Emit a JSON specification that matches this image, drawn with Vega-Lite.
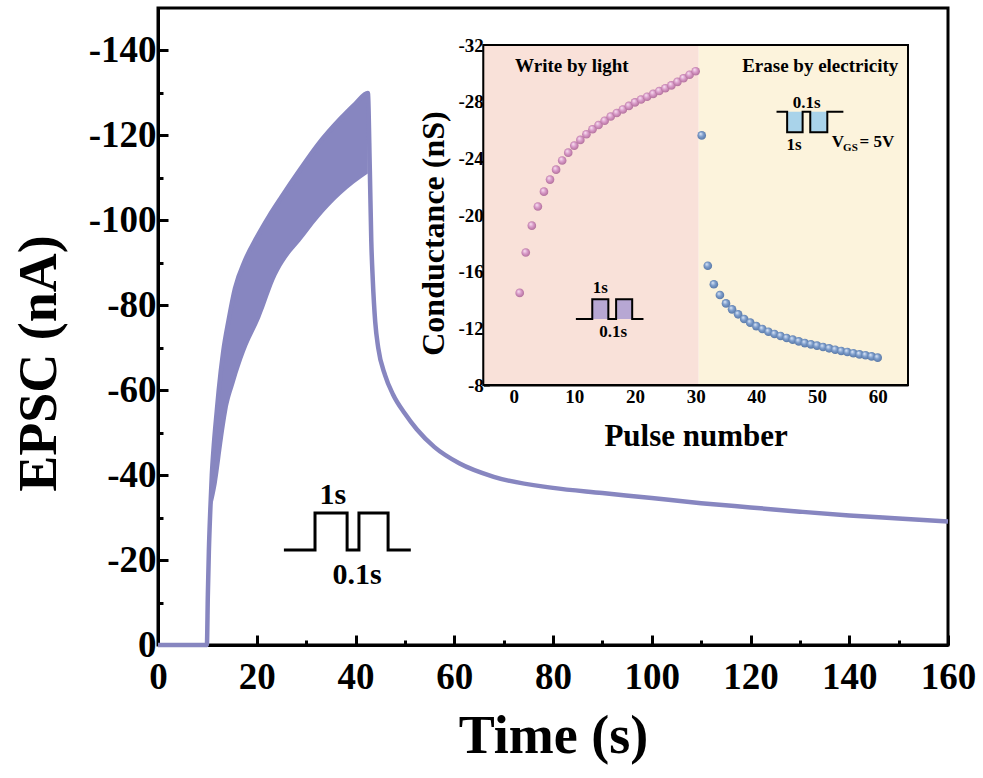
{
  "$schema": "https://vega.github.io/schema/vega-lite/v6.json",
  "width": 790,
  "height": 637,
  "autosize": {"type": "none"},
  "padding": {"left": 158, "top": 8, "right": 35, "bottom": 133},
  "background": "white",
  "config": {
    "view": {"stroke": "black", "strokeWidth": 3},
    "font": "Liberation Serif",
    "text": {"font": "Liberation Serif", "fontWeight": "bold", "color": "black"}
  },
  "datasets": {
    "band": [
      {"t": 11.0, "epsc": -43, "lo": -33},
      {"t": 11.9, "epsc": -55, "lo": -38},
      {"t": 13.2, "epsc": -69, "lo": -49},
      {"t": 14.0, "epsc": -74.5, "lo": -55},
      {"t": 15.6, "epsc": -84, "lo": -62},
      {"t": 17.6, "epsc": -90.5, "lo": -69},
      {"t": 20.7, "epsc": -97.5, "lo": -77},
      {"t": 24.0, "epsc": -104, "lo": -87},
      {"t": 26.0, "epsc": -107, "lo": -91},
      {"t": 28.8, "epsc": -112, "lo": -95},
      {"t": 32.5, "epsc": -118, "lo": -100.5},
      {"t": 37.0, "epsc": -124, "lo": -106},
      {"t": 42.5, "epsc": -130, "lo": -111}
    ],
    "curve": [
      {"t": 0, "epsc": 0}, {"t": 9.9, "epsc": 0}, {"t": 10.1, "epsc": -12}, {"t": 10.3, "epsc": -22},
      {"t": 10.6, "epsc": -32}, {"t": 10.9, "epsc": -40}, {"t": 11.3, "epsc": -47}, {"t": 11.9, "epsc": -55},
      {"t": 12.3, "epsc": -60}, {"t": 13.2, "epsc": -69}, {"t": 14.3, "epsc": -76.5}, {"t": 15.6, "epsc": -84},
      {"t": 17.6, "epsc": -90.5}, {"t": 20, "epsc": -96}, {"t": 22.5, "epsc": -101}, {"t": 25, "epsc": -105.5},
      {"t": 28.8, "epsc": -112}, {"t": 32.5, "epsc": -118}, {"t": 37, "epsc": -124}, {"t": 40, "epsc": -127.5},
      {"t": 42.5, "epsc": -130}, {"t": 42.9, "epsc": -112}, {"t": 43.2, "epsc": -95}, {"t": 43.5, "epsc": -86},
      {"t": 44, "epsc": -76}, {"t": 44.6, "epsc": -70}, {"t": 46, "epsc": -63.5}, {"t": 47.6, "epsc": -59},
      {"t": 50, "epsc": -54.5}, {"t": 52.4, "epsc": -50.8}, {"t": 56, "epsc": -46.6}, {"t": 61, "epsc": -42.8},
      {"t": 68, "epsc": -39.6}, {"t": 80, "epsc": -37}, {"t": 90, "epsc": -35.8}, {"t": 100, "epsc": -34.6},
      {"t": 110, "epsc": -33.4}, {"t": 120, "epsc": -32.4}, {"t": 130, "epsc": -31.4}, {"t": 140, "epsc": -30.5},
      {"t": 150, "epsc": -29.8}, {"t": 160, "epsc": -29.1}
    ],
    "mainPulse": [
      {"i": 0, "t": 25.5, "epsc": -22.35}, {"i": 1, "t": 31.8, "epsc": -22.35}, {"i": 2, "t": 31.8, "epsc": -31.06},
      {"i": 3, "t": 38.3, "epsc": -31.06}, {"i": 4, "t": 38.3, "epsc": -22.35}, {"i": 5, "t": 40.7, "epsc": -22.35},
      {"i": 6, "t": 40.7, "epsc": -31.06}, {"i": 7, "t": 46.6, "epsc": -31.06}, {"i": 8, "t": 46.6, "epsc": -22.35},
      {"i": 9, "t": 51.2, "epsc": -22.35}
    ],
    "mainText": [
      {"t": 35.4, "epsc": -35.3, "label": "1s"},
      {"t": 40.3, "epsc": -16.5, "label": "0.1s"}
    ],
    "regions": [
      {"n": -5, "n2": 30.5, "g": -32, "g2": -8, "phase": "write"},
      {"n": 30.5, "n2": 65, "g": -32, "g2": -8, "phase": "erase"}
    ],
    "frame": [{"n": -5, "n2": 65, "g": -32, "g2": -8}],
    "points": [
      {"n": 1, "g": -14.5, "phase": "write"}, {"n": 2, "g": -17.35, "phase": "write"}, {"n": 3, "g": -19.25, "phase": "write"},
      {"n": 4, "g": -20.6, "phase": "write"}, {"n": 5, "g": -21.65, "phase": "write"}, {"n": 6, "g": -22.5, "phase": "write"},
      {"n": 7, "g": -23.2, "phase": "write"}, {"n": 8, "g": -23.85, "phase": "write"}, {"n": 9, "g": -24.4, "phase": "write"},
      {"n": 10, "g": -24.9, "phase": "write"}, {"n": 11, "g": -25.3, "phase": "write"}, {"n": 12, "g": -25.7, "phase": "write"},
      {"n": 13, "g": -26.05, "phase": "write"}, {"n": 14, "g": -26.35, "phase": "write"}, {"n": 15, "g": -26.65, "phase": "write"},
      {"n": 16, "g": -26.95, "phase": "write"}, {"n": 17, "g": -27.2, "phase": "write"}, {"n": 18, "g": -27.45, "phase": "write"},
      {"n": 19, "g": -27.7, "phase": "write"}, {"n": 20, "g": -27.95, "phase": "write"}, {"n": 21, "g": -28.15, "phase": "write"},
      {"n": 22, "g": -28.35, "phase": "write"}, {"n": 23, "g": -28.55, "phase": "write"}, {"n": 24, "g": -28.75, "phase": "write"},
      {"n": 25, "g": -28.95, "phase": "write"}, {"n": 26, "g": -29.15, "phase": "write"}, {"n": 27, "g": -29.4, "phase": "write"},
      {"n": 28, "g": -29.65, "phase": "write"}, {"n": 29, "g": -29.9, "phase": "write"}, {"n": 30, "g": -30.15, "phase": "write"},
      {"n": 31, "g": -25.62, "phase": "erase"}, {"n": 32, "g": -16.42, "phase": "erase"}, {"n": 33, "g": -15.11, "phase": "erase"},
      {"n": 34, "g": -14.35, "phase": "erase"}, {"n": 35, "g": -13.76, "phase": "erase"}, {"n": 36, "g": -13.34, "phase": "erase"},
      {"n": 37, "g": -12.99, "phase": "erase"}, {"n": 38, "g": -12.66, "phase": "erase"}, {"n": 39, "g": -12.4, "phase": "erase"},
      {"n": 40, "g": -12.16, "phase": "erase"}, {"n": 41, "g": -11.95, "phase": "erase"}, {"n": 42, "g": -11.76, "phase": "erase"},
      {"n": 43, "g": -11.6, "phase": "erase"}, {"n": 44, "g": -11.46, "phase": "erase"}, {"n": 45, "g": -11.32, "phase": "erase"},
      {"n": 46, "g": -11.2, "phase": "erase"}, {"n": 47, "g": -11.08, "phase": "erase"}, {"n": 48, "g": -10.96, "phase": "erase"},
      {"n": 49, "g": -10.87, "phase": "erase"}, {"n": 50, "g": -10.78, "phase": "erase"}, {"n": 51, "g": -10.68, "phase": "erase"},
      {"n": 52, "g": -10.59, "phase": "erase"}, {"n": 53, "g": -10.49, "phase": "erase"}, {"n": 54, "g": -10.4, "phase": "erase"},
      {"n": 55, "g": -10.33, "phase": "erase"}, {"n": 56, "g": -10.24, "phase": "erase"}, {"n": 57, "g": -10.16, "phase": "erase"},
      {"n": 58, "g": -10.1, "phase": "erase"}, {"n": 59, "g": -10.02, "phase": "erase"}, {"n": 60, "g": -9.93, "phase": "erase"}
    ],
    "pulseFill": [
      {"n": 12.96, "n2": 15.61, "g": -12.66, "g2": -14.05, "phase": "write"},
      {"n": 16.89, "n2": 19.54, "g": -12.66, "g2": -14.05, "phase": "write"},
      {"n": 45.08, "n2": 47.63, "g": -27.29, "g2": -25.84, "phase": "erase"},
      {"n": 48.89, "n2": 51.7, "g": -27.29, "g2": -25.84, "phase": "erase"}
    ],
    "pulsePath": [
      {"p": "write", "i": 0, "n": 10.26, "g": -12.66}, {"p": "write", "i": 1, "n": 12.96, "g": -12.66},
      {"p": "write", "i": 2, "n": 12.96, "g": -14.05}, {"p": "write", "i": 3, "n": 15.61, "g": -14.05},
      {"p": "write", "i": 4, "n": 15.61, "g": -12.66}, {"p": "write", "i": 5, "n": 16.89, "g": -12.66},
      {"p": "write", "i": 6, "n": 16.89, "g": -14.05}, {"p": "write", "i": 7, "n": 19.54, "g": -14.05},
      {"p": "write", "i": 8, "n": 19.54, "g": -12.66}, {"p": "write", "i": 9, "n": 21.4, "g": -12.66},
      {"p": "erase", "i": 0, "n": 43.33, "g": -27.29}, {"p": "erase", "i": 1, "n": 45.08, "g": -27.29},
      {"p": "erase", "i": 2, "n": 45.08, "g": -25.84}, {"p": "erase", "i": 3, "n": 47.63, "g": -25.84},
      {"p": "erase", "i": 4, "n": 47.63, "g": -27.29}, {"p": "erase", "i": 5, "n": 48.89, "g": -27.29},
      {"p": "erase", "i": 6, "n": 48.89, "g": -25.84}, {"p": "erase", "i": 7, "n": 51.7, "g": -25.84},
      {"p": "erase", "i": 8, "n": 51.7, "g": -27.29}, {"p": "erase", "i": 9, "n": 54.35, "g": -27.29}
    ],
    "insetTitles": [
      {"n": 9.6, "g": -30.54, "label": "Write by light"}
    ],
    "insetTitlesRight": [
      {"n": 63.4, "g": -30.54, "label": "Erase by electricity"}
    ],
    "insetSmall": [
      {"n": 14.29, "g": -14.83, "label": "1s"},
      {"n": 16.39, "g": -11.72, "label": "0.1s"},
      {"n": 48.3, "g": -27.89, "label": "0.1s"},
      {"n": 46.2, "g": -24.94, "label": "1s"}
    ],
    "vgsMain": [
      {"n": 52.43, "g": -25.18, "label": "V"},
      {"n": 57.0, "g": -25.18, "label": "= 5V"}
    ],
    "vgsSub": [
      {"n": 54.3, "g": -24.7, "label": "GS"}
    ]
  },
  "layer": [
    {
      "layer": [
        {
          "data": {"name": "band"},
          "mark": {"type": "area", "color": "#8786c0", "opacity": 1, "interpolate": "monotone"},
          "encoding": {
            "x": {
              "field": "t", "type": "quantitative",
              "scale": {"domain": [0, 160], "nice": false, "zero": false},
              "axis": {
                "title": "Time (s)",
                "values": [0, 10, 20, 30, 40, 50, 60, 70, 80, 90, 100, 110, 120, 130, 140, 150, 160],
                "labelExpr": "datum.value % 20 === 0 ? datum.label : ''",
                "tickSize": {"condition": {"test": "datum.value % 20 === 0", "value": -10}, "value": -5},
                "tickWidth": 3, "tickColor": "black",
                "domainColor": "black", "domainWidth": 3,
                "labelFont": "Liberation Serif", "labelFontSize": 37, "labelFontWeight": "bold", "labelColor": "black",
                "labelPadding": 24, "labelFlush": false, "labelOverlap": false,
                "titleFont": "Liberation Serif", "titleFontSize": 54, "titleFontWeight": "bold", "titleColor": "black",
                "titlePadding": 9, "grid": false
              }
            },
            "y": {
              "field": "epsc", "type": "quantitative",
              "scale": {"domain": [-150, 0], "reverse": true, "nice": false, "zero": false},
              "axis": {
                "title": "EPSC (nA)",
                "values": [-140, -130, -120, -110, -100, -90, -80, -70, -60, -50, -40, -30, -20, -10, 0],
                "labelExpr": "datum.value % 20 === 0 ? '' + datum.value : ''",
                "tickSize": {"condition": {"test": "datum.value % 20 === 0", "value": -10}, "value": -5},
                "tickWidth": 3, "tickColor": "black",
                "domainColor": "black", "domainWidth": 3,
                "labelFont": "Liberation Serif", "labelFontSize": 37, "labelFontWeight": "bold", "labelColor": "black",
                "labelPadding": 12, "labelFlush": false, "labelOverlap": false,
                "titleFont": "Liberation Serif", "titleFontSize": 54, "titleFontWeight": "bold", "titleColor": "black",
                "titlePadding": 22, "titleY": 355, "grid": false
              }
            },
            "y2": {"field": "lo"}
          }
        },
        {
          "data": {"name": "curve"},
          "mark": {"type": "line", "color": "#8786c0", "strokeWidth": 4.5, "interpolate": "monotone"},
          "encoding": {
            "x": {"field": "t", "type": "quantitative"},
            "y": {"field": "epsc", "type": "quantitative"}
          }
        },
        {
          "data": {"name": "mainPulse"},
          "mark": {"type": "line", "color": "black", "strokeWidth": 3, "strokeJoin": "miter"},
          "encoding": {
            "x": {"field": "t", "type": "quantitative"},
            "y": {"field": "epsc", "type": "quantitative"},
            "order": {"field": "i", "type": "quantitative"}
          }
        },
        {
          "data": {"name": "mainText"},
          "mark": {"type": "text", "fontSize": 30, "fontWeight": "bold", "font": "Liberation Serif", "color": "black", "baseline": "middle", "align": "center"},
          "encoding": {
            "x": {"field": "t", "type": "quantitative"},
            "y": {"field": "epsc", "type": "quantitative"},
            "text": {"field": "label"}
          }
        }
      ]
    },
    {
      "layer": [
        {
          "data": {"name": "regions"},
          "mark": {"type": "rect"},
          "encoding": {
            "x": {
              "field": "n", "type": "quantitative",
              "scale": {"domain": [-5, 65], "range": [325.3, 750], "nice": false, "zero": false},
              "axis": {
                "title": "Pulse number", "orient": "bottom", "offset": -260,
                "values": [0, 5, 10, 15, 20, 25, 30, 35, 40, 45, 50, 55, 60],
                "labelExpr": "datum.value % 10 === 0 ? datum.label : ''",
                "tickSize": {"condition": {"test": "datum.value % 10 === 0", "value": -6}, "value": -3},
                "tickWidth": 2, "tickColor": "black",
                "domainColor": "black", "domainWidth": 2,
                "labelFont": "Liberation Serif", "labelFontSize": 19, "labelFontWeight": "bold", "labelColor": "black",
                "labelPadding": 8, "labelFlush": false, "labelOverlap": false,
                "titleFont": "Liberation Serif", "titleFontSize": 31, "titleFontWeight": "bold", "titleColor": "black",
                "titlePadding": 12, "grid": false
              }
            },
            "x2": {"field": "n2"},
            "y": {
              "field": "g", "type": "quantitative",
              "scale": {"domain": [-32, -8], "range": [37, 377], "nice": false, "zero": false},
              "axis": {
                "title": "Conductance (nS)", "orient": "left", "offset": -325.3,
                "values": [-32, -30, -28, -26, -24, -22, -20, -18, -16, -14, -12, -10, -8],
                "labelExpr": "datum.value % 4 === 0 ? '' + datum.value : ''",
                "tickSize": {"condition": {"test": "datum.value % 4 === 0", "value": -6}, "value": -3},
                "tickWidth": 2, "tickColor": "black",
                "domainColor": "black", "domainWidth": 2,
                "labelFont": "Liberation Serif", "labelFontSize": 19, "labelFontWeight": "bold", "labelColor": "black",
                "labelPadding": 6, "labelFlush": false, "labelOverlap": false,
                "titleFont": "Liberation Serif", "titleFontSize": 32, "titleFontWeight": "bold", "titleColor": "black",
                "titlePadding": 7, "titleY": 225, "grid": false
              }
            },
            "y2": {"field": "g2"},
            "color": {
              "field": "phase", "type": "nominal",
              "scale": {"domain": ["write", "erase"], "range": ["#f9e1d9", "#fcf3dc"]},
              "legend": null
            }
          }
        },
        {
          "data": {"name": "frame"},
          "mark": {"type": "rect", "fill": null, "fillOpacity": 0, "stroke": "black", "strokeWidth": 2},
          "encoding": {
            "x": {"field": "n", "type": "quantitative"},
            "x2": {"field": "n2"},
            "y": {"field": "g", "type": "quantitative"},
            "y2": {"field": "g2"}
          }
        },
        {
          "data": {"name": "pulseFill"},
          "mark": {"type": "rect"},
          "encoding": {
            "x": {"field": "n", "type": "quantitative"},
            "x2": {"field": "n2"},
            "y": {"field": "g", "type": "quantitative"},
            "y2": {"field": "g2"},
            "fill": {
              "field": "phase", "type": "nominal",
              "scale": {"domain": ["write", "erase"], "range": ["#b7a7d3", "#a9d3ea"]},
              "legend": null
            }
          }
        },
        {
          "data": {"name": "pulsePath"},
          "mark": {"type": "line", "color": "black", "strokeWidth": 2, "strokeJoin": "miter"},
          "encoding": {
            "x": {"field": "n", "type": "quantitative"},
            "y": {"field": "g", "type": "quantitative"},
            "detail": {"field": "p"},
            "order": {"field": "i", "type": "quantitative"}
          }
        },
        {
          "data": {"name": "points"},
          "transform": [{"filter": "datum.phase === 'write'"}],
          "mark": {
            "type": "circle", "size": 75, "opacity": 1,
            "fill": {
              "gradient": "radial", "x1": 0.35, "y1": 0.3, "r1": 0, "x2": 0.5, "y2": 0.5, "r2": 0.6,
              "stops": [{"offset": 0, "color": "#fbe8f4"}, {"offset": 0.45, "color": "#d99bc9"}, {"offset": 1, "color": "#a8648f"}]
            }
          },
          "encoding": {
            "x": {"field": "n", "type": "quantitative"},
            "y": {"field": "g", "type": "quantitative"}
          }
        },
        {
          "data": {"name": "points"},
          "transform": [{"filter": "datum.phase === 'erase'"}],
          "mark": {
            "type": "circle", "size": 75, "opacity": 1,
            "fill": {
              "gradient": "radial", "x1": 0.35, "y1": 0.3, "r1": 0, "x2": 0.5, "y2": 0.5, "r2": 0.6,
              "stops": [{"offset": 0, "color": "#e6eefa"}, {"offset": 0.45, "color": "#7d9dcc"}, {"offset": 1, "color": "#4f6e9c"}]
            }
          },
          "encoding": {
            "x": {"field": "n", "type": "quantitative"},
            "y": {"field": "g", "type": "quantitative"}
          }
        },
        {
          "data": {"name": "insetTitles"},
          "mark": {"type": "text", "fontSize": 19, "fontWeight": "bold", "font": "Liberation Serif", "color": "black", "baseline": "middle", "align": "center"},
          "encoding": {
            "x": {"field": "n", "type": "quantitative"},
            "y": {"field": "g", "type": "quantitative"},
            "text": {"field": "label"}
          }
        },
        {
          "data": {"name": "insetTitlesRight"},
          "mark": {"type": "text", "fontSize": 19, "fontWeight": "bold", "font": "Liberation Serif", "color": "black", "baseline": "middle", "align": "right"},
          "encoding": {
            "x": {"field": "n", "type": "quantitative"},
            "y": {"field": "g", "type": "quantitative"},
            "text": {"field": "label"}
          }
        },
        {
          "data": {"name": "insetSmall"},
          "mark": {"type": "text", "fontSize": 17, "fontWeight": "bold", "font": "Liberation Serif", "color": "black", "baseline": "middle", "align": "center"},
          "encoding": {
            "x": {"field": "n", "type": "quantitative"},
            "y": {"field": "g", "type": "quantitative"},
            "text": {"field": "label"}
          }
        },
        {
          "data": {"name": "vgsMain"},
          "mark": {"type": "text", "fontSize": 17, "fontWeight": "bold", "font": "Liberation Serif", "color": "black", "baseline": "middle", "align": "left"},
          "encoding": {
            "x": {"field": "n", "type": "quantitative"},
            "y": {"field": "g", "type": "quantitative"},
            "text": {"field": "label"}
          }
        },
        {
          "data": {"name": "vgsSub"},
          "mark": {"type": "text", "fontSize": 11, "fontWeight": "bold", "font": "Liberation Serif", "color": "black", "baseline": "middle", "align": "left"},
          "encoding": {
            "x": {"field": "n", "type": "quantitative"},
            "y": {"field": "g", "type": "quantitative"},
            "text": {"field": "label"}
          }
        }
      ]
    }
  ],
  "resolve": {
    "scale": {"x": "independent", "y": "independent", "color": "independent", "fill": "independent"},
    "axis": {"x": "independent", "y": "independent"}
  }
}
